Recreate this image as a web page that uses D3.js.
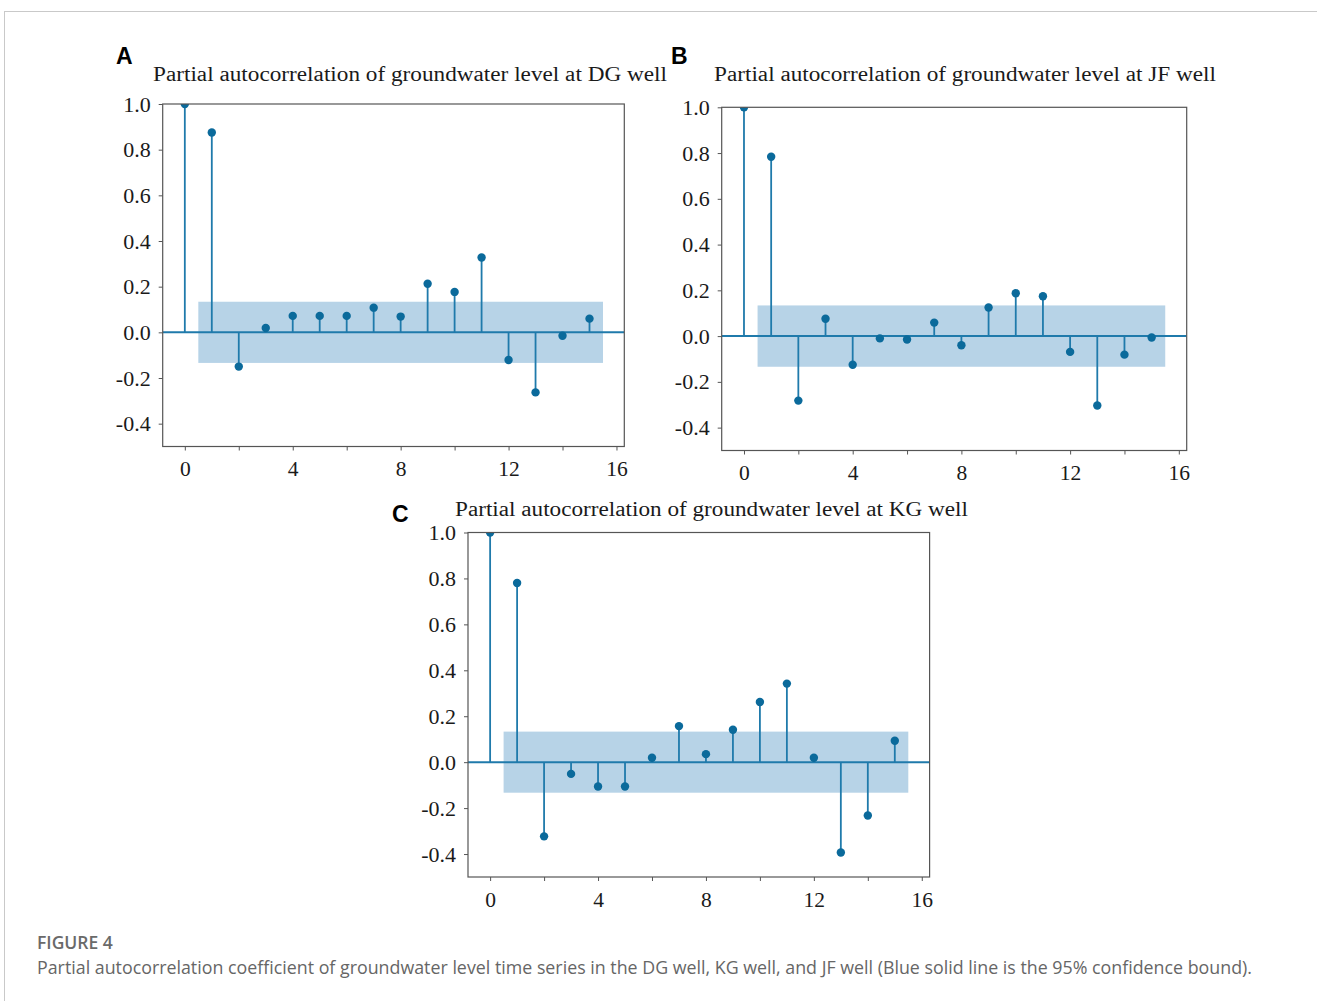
<!DOCTYPE html>
<html>
<head>
<meta charset="utf-8">
<script src="https://cdn.jsdelivr.net/npm/d3@7"></script>
<style>
  body { margin: 0; background: #fff; }
  svg { display: block; }
</style>
</head>
<body>
<svg id="fig" width="1317" height="1001"></svg>
<script>
// ---- data ----
const lags = d3.range(0, 16);

const pacfDG = [1.0, 0.875, -0.15, 0.019, 0.072, 0.072, 0.072, 0.108, 0.069, 0.213, 0.177, 0.328, -0.121, -0.263, -0.015, 0.06];
const pacfJF = [1.0, 0.784, -0.282, 0.076, -0.125, -0.01, -0.015, 0.059, -0.04, 0.125, 0.187, 0.174, -0.069, -0.303, -0.081, -0.006];
const pacfKG = [1.0, 0.78, -0.323, -0.051, -0.106, -0.106, 0.019, 0.157, 0.035, 0.141, 0.262, 0.342, 0.019, -0.393, -0.232, 0.093];

// 95% confidence bound (half width)
const boundDG = 0.134;
const boundJF = 0.134;
const boundKG = 0.133;

const yTicks = [-0.4, -0.2, 0.0, 0.2, 0.4, 0.6, 0.8, 1.0];
const xTicks = [0, 2, 4, 6, 8, 10, 12, 14, 16];
const xTickLabels = [0, 4, 8, 12, 16];

const titleDG = "Partial autocorrelation of groundwater level at DG well";
const titleJF = "Partial autocorrelation of groundwater level at JF well";
const titleKG = "Partial autocorrelation of groundwater level at KG well";

const figLabel = "FIGURE 4";
const caption = "Partial autocorrelation coefficient of groundwater level time series in the DG well, KG well, and JF well (Blue solid line is the 95% confidence bound).";

// ---- layout ----
const xDomain = [-0.82, 16.29],
  yDomain = [-0.5, 1.0];

const stemColor = "#1f7aab",
  dotColor = "#0b6a9b",
  bandColor = "#1f77b4",
  frameColor = "#555";

const serif = "'Liberation Serif', 'Times New Roman', serif";

const panels = [
  { letter: "A", title: titleDG, values: pacfDG, bound: boundDG,
    left: 162.7, right: 624.3, top: 104, bottom: 446.5,
    titleX: 153, titleW: 514, titleY: 81, letterX: 116, letterY: 64.3 },
  { letter: "B", title: titleJF, values: pacfJF, bound: boundJF,
    left: 721.7, right: 1186.7, top: 107.3, bottom: 450.5,
    titleX: 714, titleW: 502, titleY: 81, letterX: 671, letterY: 64.3 },
  { letter: "C", title: titleKG, values: pacfKG, bound: boundKG,
    left: 468, right: 929.6, top: 532.5, bottom: 877,
    titleX: 455, titleW: 513, titleY: 515.5, letterX: 392, letterY: 522.3 },
];

const svg = d3.select("#fig");

// outer figure box
svg.append("rect")
  .attr("x", 4.5).attr("y", 11.5)
  .attr("width", 1340).attr("height", 1100)
  .attr("fill", "none")
  .attr("stroke", "#c9c9c9")
  .attr("stroke-width", 1);

panels.forEach((p, i) => {
  const x = d3.scaleLinear().domain(xDomain).range([p.left, p.right]);
  const y = d3.scaleLinear().domain(yDomain).range([p.bottom, p.top]);

  const g = svg.append("g").attr("class", "panel" + p.letter);

  const clipId = "clip" + i;
  svg.append("clipPath").attr("id", clipId)
    .append("rect")
    .attr("x", p.left).attr("y", p.top)
    .attr("width", p.right - p.left).attr("height", p.bottom - p.top);

  const plot = g.append("g").attr("clip-path", `url(#${clipId})`);

  // confidence band
  plot.append("rect")
    .attr("x", x(0.5))
    .attr("width", x(15.5) - x(0.5))
    .attr("y", y(p.bound))
    .attr("height", y(-p.bound) - y(p.bound))
    .attr("fill", bandColor)
    .attr("fill-opacity", 0.32);

  // zero line
  plot.append("line")
    .attr("x1", p.left).attr("x2", p.right)
    .attr("y1", y(0)).attr("y2", y(0))
    .attr("stroke", stemColor)
    .attr("stroke-width", 2);

  // stems
  plot.selectAll("line.stem")
    .data(lags)
    .join("line")
    .attr("class", "stem")
    .attr("x1", (d) => x(d)).attr("x2", (d) => x(d))
    .attr("y1", y(0))
    .attr("y2", (d) => y(p.values[d]))
    .attr("stroke", stemColor)
    .attr("stroke-width", 1.8);

  // markers
  plot.selectAll("circle")
    .data(lags)
    .join("circle")
    .attr("cx", (d) => x(d))
    .attr("cy", (d) => y(p.values[d]))
    .attr("r", 4.2)
    .attr("fill", dotColor);

  // axes
  const yAxis = d3.axisLeft(y)
    .tickValues(yTicks)
    .tickSize(4)
    .tickPadding(8)
    .tickFormat((d) => d3.format(".1f")(d).replace("−", "-"));

  const xAxis = d3.axisBottom(x)
    .tickValues(xTicks)
    .tickFormat((d) => (xTickLabels.includes(d) ? d : ""))
    .tickSize(4)
    .tickPadding(10.5);

  const ya = g.append("g")
    .attr("transform", `translate(${p.left},0)`)
    .call(yAxis);
  const xa = g.append("g")
    .attr("transform", `translate(0,${p.bottom})`)
    .call(xAxis);

  [ya, xa].forEach((a) => {
    a.select(".domain").remove();
    a.selectAll(".tick line").attr("stroke", frameColor).attr("stroke-width", 1);
    a.selectAll(".tick text")
      .attr("fill", "#1a1a1a")
      .style("font-family", serif)
      .style("font-size", "21.5px");
  });
  ya.selectAll(".tick text").style("font-size", "22px");

  // frame
  g.append("rect")
    .attr("x", p.left).attr("y", p.top)
    .attr("width", p.right - p.left).attr("height", p.bottom - p.top)
    .attr("fill", "none")
    .attr("stroke", frameColor)
    .attr("stroke-width", 1.2);

  // title
  g.append("text")
    .attr("x", p.titleX).attr("y", p.titleY)
    .attr("textLength", p.titleW)
    .attr("lengthAdjust", "spacingAndGlyphs")
    .attr("fill", "#1a1a1a")
    .style("font-family", serif)
    .style("font-size", "20.5px")
    .text(p.title);

  // panel letter
  svg.append("text")
    .attr("x", p.letterX).attr("y", p.letterY)
    .attr("fill", "#000")
    .style("font-family", "'Liberation Sans', Arial, sans-serif")
    .style("font-weight", "bold")
    .style("font-size", "23px")
    .text(p.letter);
});

// caption
svg.append("text")
  .attr("x", 37).attr("y", 949.3)
  .attr("fill", "#6a6a6a")
  .style("font-family", "'Open Sans', sans-serif")
  .style("font-weight", "600")
  .style("font-size", "17.5px")
  .text(figLabel);

svg.append("text")
  .attr("x", 37).attr("y", 974.3)
  .attr("textLength", 1215)
  .attr("lengthAdjust", "spacingAndGlyphs")
  .attr("fill", "#666")
  .style("font-family", "'Open Sans', sans-serif")
  .style("font-size", "17.5px")
  .text(caption);
</script>
</body>
</html>
